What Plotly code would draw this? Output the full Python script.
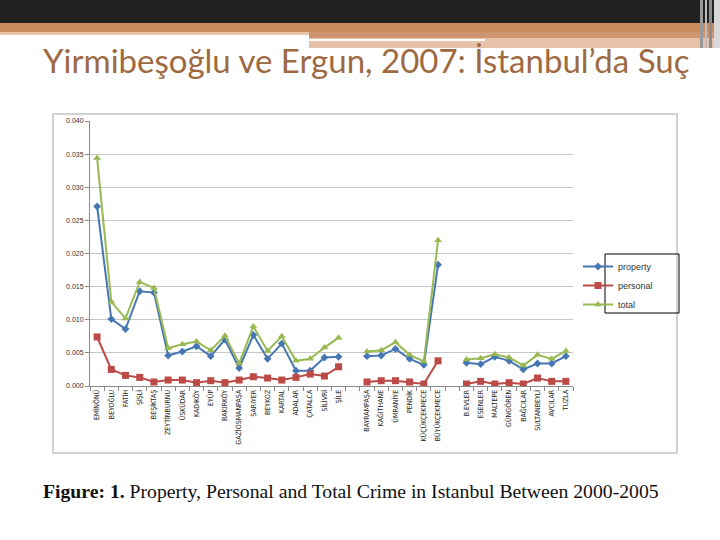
import plotly.graph_objects as go

districts = ["EMİNÖNÜ", "BEYOĞLU", "FATİH", "ŞİŞLİ", "BEŞİKTAŞ", "ZEYTİNBURNU", "ÜSKÜDAR",
             "KADIKÖY", "EYÜP", "BAKIRKÖY", "GAZİOSMANPAŞA", "SARIYER", "BEYKOZ", "KARTAL",
             "ADALAR", "ÇATALCA", "SİLİVRİ", "ŞİLE", " ",
             "BAYRAMPAŞA", "KAĞITHANE", "ÜMRANİYE", "PENDİK", "KÜÇÜKÇEKMECE", "BÜYÜKÇEKMECE", "  ",
             "B.EVLER", "ESENLER", "MALTEPE", "GÜNGÖREN", "BAĞCILAR", "SULTANBEYLİ", "AVCILAR", "TUZLA"]

property_rate = [0.0271, 0.0101, 0.0086, 0.0143, 0.0141, 0.0046, 0.0052, 0.0060, 0.0045, 0.0070,
                 0.0027, 0.0077, 0.0041, 0.0064, 0.0023, 0.0023, 0.0043, 0.0044, None,
                 0.0045, 0.0046, 0.0056, 0.0041, 0.0032, 0.0183, None,
                 0.0035, 0.0033, 0.0044, 0.0038, 0.0025, 0.0034, 0.0034, 0.0045]

personal_rate = [0.0074, 0.0025, 0.0016, 0.0013, 0.0006, 0.0009, 0.0009, 0.0005, 0.0008, 0.0005,
                 0.0009, 0.0014, 0.0012, 0.0009, 0.0013, 0.0018, 0.0015, 0.0029, None,
                 0.0006, 0.0008, 0.0008, 0.0006, 0.0003, 0.0038, None,
                 0.0003, 0.0007, 0.0003, 0.0005, 0.0003, 0.0012, 0.0007, 0.0007]

total_rate = [0.0344, 0.0127, 0.0102, 0.0157, 0.0148, 0.0057, 0.0063, 0.0067, 0.0054, 0.0076,
              0.0034, 0.0090, 0.0053, 0.0075, 0.0038, 0.0041, 0.0058, 0.0073, None,
              0.0052, 0.0054, 0.0066, 0.0047, 0.0037, 0.0220, None,
              0.0040, 0.0042, 0.0048, 0.0043, 0.0031, 0.0047, 0.0041, 0.0053]

series_names = ["property", "personal", "total"]

W, H = 720, 540
PL, PR, PT, PB = 90, 573, 121, 386


def px(x):
    return (x - PL) / (PR - PL)


def py(y):
    return (PB - y) / (PB - PT)


fig = go.Figure()
fig.add_trace(go.Scatter(x=districts, y=property_rate, name=series_names[0], mode="lines+markers",
                         line=dict(color="#4677b3", width=2),
                         marker=dict(symbol="diamond", size=6, color="#4677b3")))
fig.add_trace(go.Scatter(x=districts, y=personal_rate, name=series_names[1], mode="lines+markers",
                         line=dict(color="#bc4a47", width=2),
                         marker=dict(symbol="square", size=7, color="#bc4a47")))
fig.add_trace(go.Scatter(x=districts, y=total_rate, name=series_names[2], mode="lines+markers",
                         line=dict(color="#98b954", width=2),
                         marker=dict(symbol="triangle-up", size=7, color="#98b954")))

shapes = []
# slide header bars
shapes.append(dict(type="rect", xref="paper", yref="paper", x0=px(0), x1=px(720), y0=py(0), y1=py(23),
                   fillcolor="#222222", line_width=0, layer="below"))
shapes.append(dict(type="rect", xref="paper", yref="paper", x0=px(0), x1=px(720), y0=py(23), y1=py(32),
                   fillcolor="#c98a5c", line_width=0, layer="below"))
shapes.append(dict(type="rect", xref="paper", yref="paper", x0=px(0), x1=px(309), y0=py(32), y1=py(35),
                   fillcolor="#e9c8ae", line_width=0, layer="below"))
shapes.append(dict(type="rect", xref="paper", yref="paper", x0=px(309), x1=px(720), y0=py(32), y1=py(38),
                   fillcolor="#cf9570", line_width=0, layer="below"))
shapes.append(dict(type="rect", xref="paper", yref="paper", x0=px(309), x1=px(720), y0=py(38), y1=py(48),
                   fillcolor="#e6c3a8", line_width=0, layer="below"))
shapes.append(dict(type="rect", xref="paper", yref="paper", x0=px(309), x1=px(485), y0=py(39), y1=py(41),
                   fillcolor="#ffffff", line_width=0, layer="below"))
for x0, x1, c in [(700, 703, "#9a9a9a"), (705, 707, "#bdbdbd"), (709, 712, "#8c8c8c"), (714, 720, "#d8d8d8")]:
    shapes.append(dict(type="rect", xref="paper", yref="paper", x0=px(x0), x1=px(x1), y0=py(0), y1=py(48),
                       fillcolor=c, line_width=0, layer="below"))
# embedded chart frame
shapes.append(dict(type="rect", xref="paper", yref="paper", x0=px(53), x1=px(677), y0=py(114), y1=py(453),
                   line=dict(color="#d2d2d2", width=2), fillcolor="rgba(0,0,0,0)", layer="below"))
# legend frame
shapes.append(dict(type="rect", xref="paper", yref="paper", x0=px(605), x1=px(679), y0=py(254), y1=py(313),
                   line=dict(color="#000000", width=1), fillcolor="rgba(0,0,0,0)"))

annotations = [
    dict(text="Yirmibeşoğlu ve Ergun, 2007: İstanbul’da Suç", xref="paper", yref="paper",
         x=px(41), y=py(60), xanchor="left", yanchor="middle", showarrow=False,
         font=dict(family="Lato, Open Sans, sans-serif", size=33, color="#9d6a42")),
    dict(text="<b>Figure: 1.</b> Property, Personal and Total Crime in Istanbul Between 2000-2005",
         xref="paper", yref="paper", x=px(41), y=py(491), xanchor="left", yanchor="middle",
         showarrow=False, font=dict(family="Liberation Serif, Times New Roman, serif", size=19.7,
                                    color="#111111")),
]

fig.update_layout(
    width=W, height=H,
    margin=dict(l=PL, r=W - PR, t=PT, b=H - PB, pad=0),
    paper_bgcolor="#ffffff", plot_bgcolor="#ffffff",
    shapes=shapes, annotations=annotations,
    showlegend=True,
    legend=dict(x=px(578), y=py(252), xanchor="left", yanchor="top",
                bgcolor="rgba(0,0,0,0)", borderwidth=0,
                font=dict(family="Liberation Sans, Arial, sans-serif", size=9, color="#333333"),
                tracegroupgap=0),
    xaxis=dict(type="category", categoryorder="array", categoryarray=districts,
               tickangle=-90, showgrid=False, showline=True, linecolor="#8a8a8a", linewidth=1,
               ticks="outside", tickson="boundaries", ticklen=4, tickcolor="#8a8a8a",
               tickfont=dict(family="Liberation Sans Narrow, DejaVu Sans Condensed, sans-serif", size=7,
                             color="#222222"),
               range=[-0.5, len(districts) - 0.5], automargin=False),
    yaxis=dict(range=[0, 0.040], dtick=0.005, tickformat=".3f", showgrid=True, gridcolor="#c6c6c6",
               gridwidth=1, showline=True, linecolor="#8a8a8a", linewidth=1, ticks="outside",
               ticklen=4, tickcolor="#8a8a8a", zeroline=False,
               tickfont=dict(family="Liberation Sans, Arial, sans-serif", size=7, color="#333333"),
               automargin=False),
)

fig.write_html("out.html")
